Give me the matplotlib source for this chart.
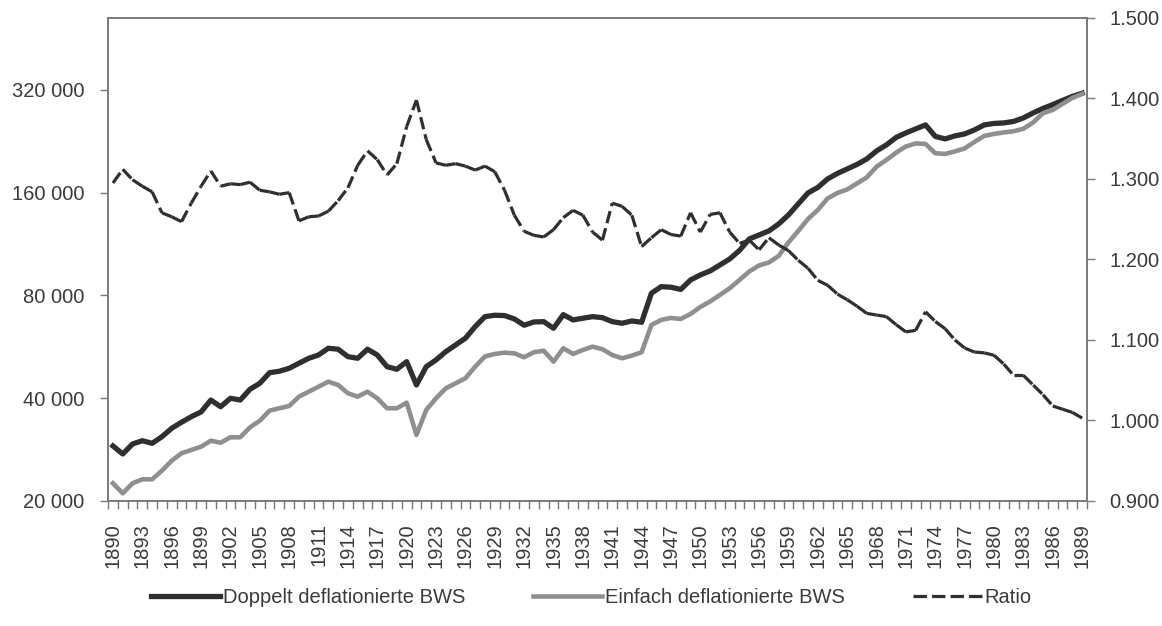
import numpy as np
import matplotlib
matplotlib.use("Agg")
import matplotlib.pyplot as plt
import matplotlib.ticker as ticker
from matplotlib.collections import LineCollection
from matplotlib.lines import Line2D

plt.rcParams['font.family'] = ['Liberation Sans', 'DejaVu Sans']

# Jahre 1890-1989
years = list(range(1890, 1990))

# Doppelt deflationierte BWS (linke Achse, log)
doppelt = [
    28980, 27460, 29370, 30030, 29500, 30850, 32650, 34000, 35300, 36450,
    39500, 37760, 39970, 39500, 42480, 44220, 47500, 47960, 48930, 50620,
    52340, 53520, 56000, 55640, 52920, 52340, 55640, 53520, 49460, 48600,
    51160, 43720, 49460, 51760, 54740, 57270, 59900, 64800, 69300, 69960,
    69800, 68240, 65400, 66860, 67000, 64080, 70240, 67780, 68560, 69300,
    68820, 67000, 66280, 67320, 66720, 81140, 84840, 84500, 83250, 88750,
    91790, 94300, 98190, 102250, 108290, 117020, 120210, 123490, 129450, 137550,
    148180, 159570, 165600, 175360, 181970, 187580, 193360, 200660, 211790, 220530,
    232000, 239140, 245680, 252380, 233570, 229660, 234350, 237520, 244020, 252380,
    254940, 255800, 258400, 264590, 273650, 282080, 289410, 297710, 305840, 312510,
]

# Einfach deflationierte BWS (linke Achse, log)
einfach = [
    22540, 21060, 22540, 23150, 23150, 24540, 26240, 27590, 28210, 28840,
    30030, 29630, 30730, 30730, 32870, 34370, 36770, 37370, 37950, 40420,
    41790, 43220, 44710, 43720, 41340, 40420, 41790, 39970, 37370, 37370,
    38800, 31210, 36940, 39970, 42750, 44220, 45750, 49460, 53000, 53890,
    54360, 54120, 52700, 54520, 55100, 51160, 56000, 53890, 55370, 56610,
    55640, 53520, 52340, 53280, 54520, 65530, 67780, 68700, 68230, 70570,
    73990, 76780, 80220, 83930, 88750, 93980, 97870, 99860, 104340, 114290,
    123490, 133910, 142310, 153760, 159570, 163380, 170140, 177150, 190500, 199310,
    209360, 218330, 222790, 222050, 208530, 207540, 211070, 215390, 225040, 234350,
    237520, 239940, 241890, 245900, 256690, 273100, 279250, 290810, 302770, 311060,
]

# Ratio (rechte Achse)
ratio = [
    1.295, 1.312, 1.299, 1.291, 1.284, 1.258, 1.253, 1.247, 1.270, 1.291,
    1.310, 1.291, 1.294, 1.293, 1.296, 1.286, 1.284, 1.281, 1.283, 1.248,
    1.253, 1.254, 1.260, 1.273, 1.289, 1.317, 1.335, 1.324, 1.305, 1.319,
    1.365, 1.398, 1.349, 1.320, 1.317, 1.319, 1.316, 1.311, 1.316, 1.309,
    1.286, 1.255, 1.235, 1.230, 1.228, 1.237, 1.252, 1.261, 1.255, 1.234,
    1.224, 1.270, 1.266, 1.255, 1.216, 1.227, 1.237, 1.231, 1.229, 1.258,
    1.234, 1.256, 1.258, 1.234, 1.220, 1.224, 1.212, 1.227, 1.218, 1.211,
    1.199, 1.189, 1.174, 1.168, 1.157, 1.150, 1.142, 1.133, 1.131, 1.129,
    1.119, 1.110, 1.112, 1.135, 1.123, 1.114, 1.100, 1.090, 1.085, 1.084,
    1.081, 1.070, 1.056, 1.056, 1.044, 1.032, 1.018, 1.014, 1.010, 1.003,
]

left_ticks = [20000, 40000, 80000, 160000, 320000]
right_ticks = [0.9, 1.0, 1.1, 1.2, 1.3, 1.4, 1.5]
label_years = years[::3]

dark = "#2f2f2f"
grey = "#8f8f8f"
frame = "#7a7a7a"
txt = "#3a3a3a"
fs = 14.5

fig = plt.figure(figsize=(11.62, 6.26), dpi=100)
ax = fig.add_axes([0.093, 0.1997, 0.8425, 0.7716])

ax.plot(years, doppelt, color=dark, lw=3.8, solid_joinstyle="round", zorder=3)
ax.plot(years, einfach, color=grey, lw=3.3, solid_joinstyle="round", zorder=4)

ax.set_yscale("log", base=2)
ax.set_ylim(20000, 519000)
ax.set_xlim(1889.5, 1989.5)
ax.yaxis.set_major_locator(ticker.FixedLocator(left_ticks))
ax.yaxis.set_minor_locator(ticker.NullLocator())
ax.yaxis.set_major_formatter(ticker.FuncFormatter(lambda v, p: f"{int(v):,}".replace(",", " ")))

# x: Beschriftung alle 3 Jahre, Striche zwischen den Jahren
ax.set_xticks(label_years)
ax.set_xticklabels([str(y) for y in label_years], rotation=90)
ax.set_xticks(np.arange(1889.5, 1990, 1), minor=True)
ax.tick_params(axis="x", which="major", length=0, pad=16, labelsize=fs, labelcolor=txt)
ax.tick_params(axis="x", which="minor", length=6, width=1, color=frame, direction="out")
ax.tick_params(axis="y", which="major", length=6, width=1, color=frame, pad=11,
               labelsize=fs, labelcolor=txt)

for s in ax.spines.values():
    s.set_color(frame)
    s.set_linewidth(1.2)

# rechte Achse: Ratio, Strichmuster beginnt in jedem Segment neu
ax2 = ax.twinx()
segs = [[(years[i], ratio[i]), (years[i + 1], ratio[i + 1])] for i in range(len(years) - 1)]
lc = LineCollection(segs, colors=dark, linewidths=2.3, linestyles=[(0, (3.9, 1.6))],
                    capstyle="butt", zorder=5)
ax2.add_collection(lc)
ax2.set_ylim(0.9, 1.5)
ax2.yaxis.set_major_locator(ticker.FixedLocator(right_ticks))
ax2.yaxis.set_major_formatter(ticker.FormatStrFormatter("%.3f"))
ax2.tick_params(axis="y", length=6, width=1, color=frame, pad=10, labelsize=fs, labelcolor=txt)
for s in ax2.spines.values():
    s.set_color(frame)
    s.set_linewidth(1.2)

handles = [
    Line2D([], [], color=dark, lw=3.8),
    Line2D([], [], color=grey, lw=3.3),
    Line2D([], [], color=dark, lw=2.3, linestyle=(0, (4.2, 1.6))),
]
labels = ["Doppelt deflationierte BWS", "Einfach deflationierte BWS", "Ratio"]
leg = fig.legend(handles, labels, loc="center", bbox_to_anchor=(0.509, 0.046), ncol=3,
                 frameon=False, handlelength=3.4, handletextpad=0.15, columnspacing=3.4,
                 fontsize=fs)
for t in leg.get_texts():
    t.set_color(txt)

fig.savefig("out.png", dpi=100)
